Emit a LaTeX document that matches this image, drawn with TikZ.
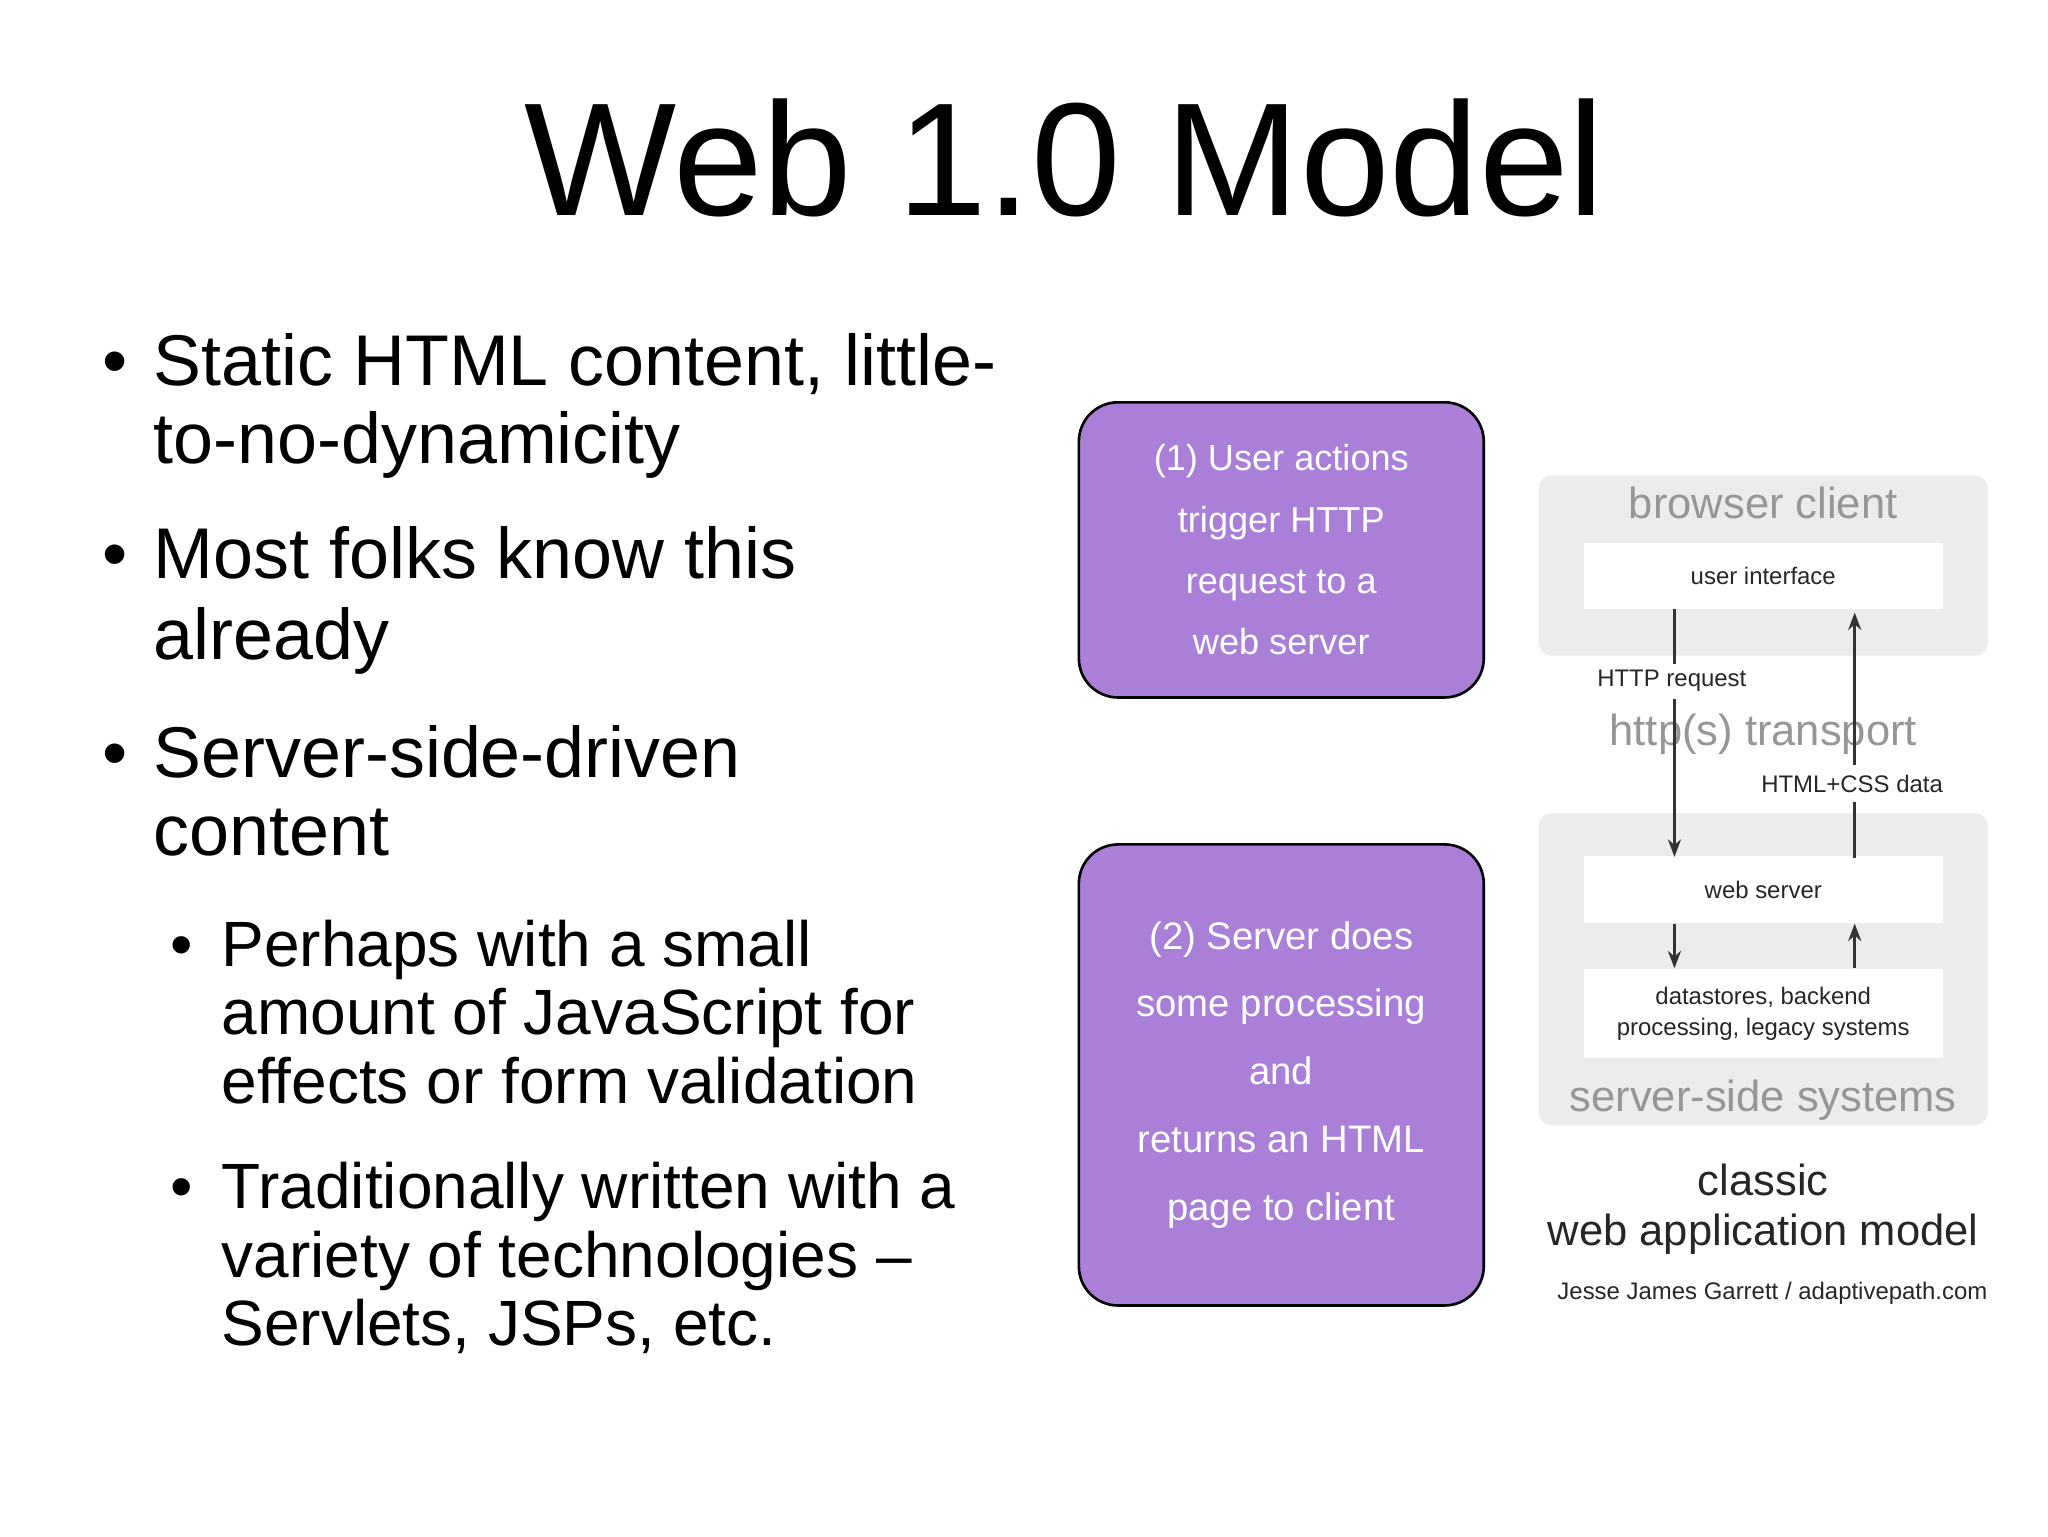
\documentclass[tikz,border=0pt]{standalone}
\usepackage{fontspec}
\setmainfont{Liberation Sans}
\usetikzlibrary{arrows.meta}
\begin{document}
\begin{tikzpicture}[x=0.3pt,y=-0.3pt,
  bul/.style={anchor=base west,inner sep=0pt,font=\fontsize{16.5}{18}\selectfont},
  sbul/.style={anchor=base west,inner sep=0pt,font=\fontsize{14.7}{15.6}\selectfont},
  pbox/.style={draw=black,line width=0.6pt,fill={rgb,255:red,169;green,127;blue,216},rounded corners=9pt},
  gbox/.style={fill={rgb,255:red,236;green,236;blue,236},rounded corners=3pt},
  wbox/.style={fill=white},
  gtxt/.style={text={rgb,255:red,150;green,150;blue,150},font=\fontsize{10}{10}\selectfont},
  stxt/.style={font=\fontsize{5.5}{6}\selectfont,text=black!85},
  arr/.style={-{Stealth[length=4pt,width=3pt]},line width=0.6pt,black!80}]
\useasboundingbox (0,0) rectangle (1568,1176);
\node[anchor=base,font=\fontsize{37}{40}\selectfont] (title) at (815,165) {Web 1.0 Model};
% bullets
\node[anchor=base,inner sep=0pt,font=\fontsize{16.5}{18}\selectfont] (d1) at (88,295) {•};
\node[bul] (b1a) at (117,295) {Static HTML content, little-};
\node[bul] (b1b) at (117,355) {to-no-dynamicity};
\node[anchor=base,inner sep=0pt,font=\fontsize{16.5}{18}\selectfont] (d2) at (88,443) {•};
\node[bul] (b2a) at (117,443) {Most folks know this};
\node[bul] (b2b) at (117,505) {already};
\node[anchor=base,inner sep=0pt,font=\fontsize{16.5}{18}\selectfont] (d3) at (88,595) {•};
\node[bul] (b3a) at (117,595) {Server-side-driven};
\node[bul] (b3b) at (117,655) {content};
\node[anchor=base,inner sep=0pt,font=\fontsize{14.7}{15.6}\selectfont] (d4) at (139,740) {•};
\node[sbul] (b4a) at (169,740) {Perhaps with a small};
\node[sbul] (b4b) at (169,792) {amount of JavaScript for};
\node[sbul] (b4c) at (169,845) {effects or form validation};
\node[anchor=base,inner sep=0pt,font=\fontsize{14.7}{15.6}\selectfont] (d5) at (139,925) {•};
\node[sbul] (b5a) at (169,925) {Traditionally written with a};
\node[sbul] (b5b) at (169,978) {variety of technologies --};
\node[sbul] (b5c) at (169,1030) {Servlets, JSPs, etc.};
% purple boxes
\node[pbox,minimum width=310*0.3pt,minimum height=226*0.3pt,text=white,align=center,
  font=\fontsize{8.3}{14.1}\selectfont] (p1) at (981,421)
  {(1) User actions\\trigger HTTP\\request to a\\web server};
\node[pbox,minimum width=310*0.3pt,minimum height=353*0.3pt,text=white,align=center,
  font=\fontsize{8.8}{15.6}\selectfont] (p2) at (981,823)
  {(2) Server does\\some processing\\and\\returns an HTML\\page to client};
% right diagram
\node[gbox,minimum width=344*0.3pt,minimum height=138*0.3pt] (bc) at (1350,433) {};
\node[gbox,minimum width=344*0.3pt,minimum height=239*0.3pt] (ss) at (1350,742) {};
\node[gtxt] (bct) at (1350,385) {browser client};
\node[wbox,minimum width=275*0.3pt,minimum height=50*0.3pt,stxt] (ui) at (1350,441) {user interface};
\node[wbox,minimum width=275*0.3pt,minimum height=51*0.3pt,stxt] (ws) at (1350,681) {web server};
\node[wbox,minimum width=275*0.3pt,minimum height=68*0.3pt,stxt,align=center,font=\fontsize{5.5}{7}\selectfont] (ds) at (1350,776) {datastores, backend\\processing, legacy systems};
\node[gtxt] (sst) at (1350,842) {server-side systems};
\node[gtxt] (tr) at (1350,562) {http(s) transport};
\node[stxt] (hr) at (1280,521) {HTTP request};
\node[stxt] (hc) at (1418,600) {HTML+CSS data};
\coordinate (a1) at (1282,466); \coordinate (a2) at (1282,508);
\coordinate (a3) at (1282,535); \coordinate (a4) at (1282,656);
\draw[line width=0.6pt,black!80] (a1) -- (a2);
\draw[arr] (a3) -- (a4);
\coordinate (c1) at (1420,657); \coordinate (c2) at (1420,614);
\coordinate (c3) at (1420,586); \coordinate (c4) at (1420,469);
\draw[line width=0.6pt,black!80] (c1) -- (c2);
\draw[arr] (c3) -- (c4);
\draw[arr] (ws.south -| a1) -- (ds.north -| a1);
\draw[arr] (ds.north -| c1) -- (ws.south -| c1);
\node[font=\fontsize{10}{10}\selectfont,text=black!85] (cl) at (1350,903) {classic};
\node[font=\fontsize{10}{10}\selectfont,text=black!85] (wam) at (1350,945) {web application model};
\node[font=\fontsize{5.5}{6}\selectfont,text=black!85] (jj) at (1357,990) {Jesse James Garrett / adaptivepath.com};
\end{tikzpicture}
\end{document}
